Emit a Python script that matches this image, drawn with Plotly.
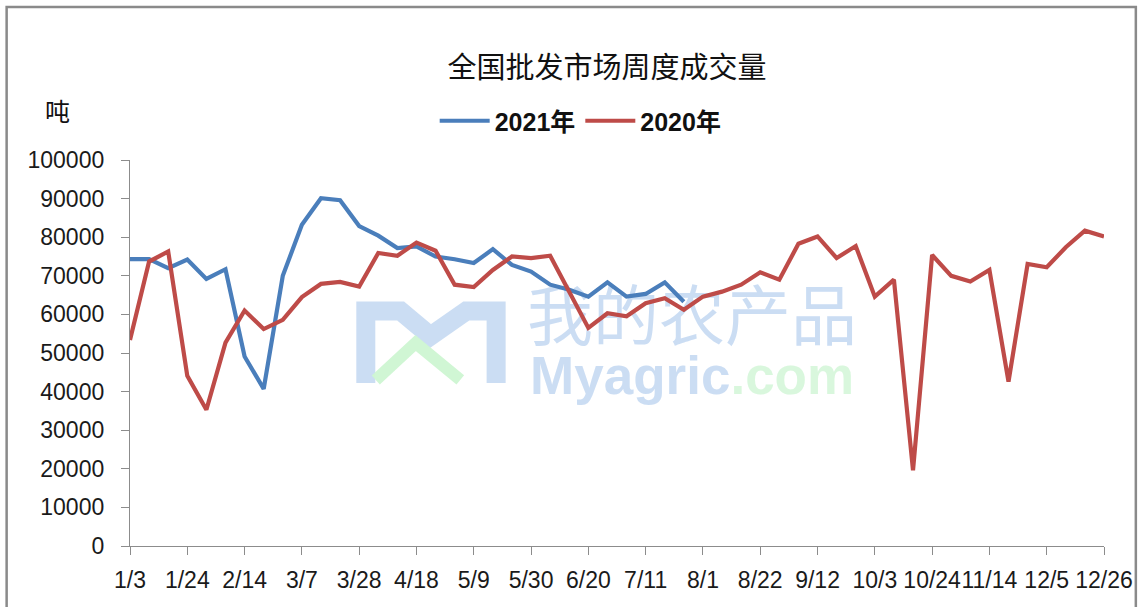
import plotly.graph_objects as go

# ---------------- data ----------------
weeks = ["1/3", "1/10", "1/17", "1/24", "1/31", "2/7", "2/14", "2/21", "2/28", "3/7",
         "3/14", "3/21", "3/28", "4/4", "4/11", "4/18", "4/25", "5/2", "5/9", "5/16",
         "5/23", "5/30", "6/6", "6/13", "6/20", "6/27", "7/4", "7/11", "7/18", "7/25",
         "8/1", "8/8", "8/15", "8/22", "8/29", "9/5", "9/12", "9/19", "9/26", "10/3",
         "10/10", "10/17", "10/24", "10/31", "11/7", "11/14", "11/21", "11/28", "12/5",
         "12/12", "12/19", "12/26"]

tick_labels = weeks[::3]

vol_2021 = [74300, 74300, 72000, 74200, 69200, 71700, 49100, 40700, 70000, 83200,
            90100, 89600, 82900, 80400, 77200, 77600, 75000, 74300, 73300, 76900,
            72800, 71100, 67700, 66400, 64600, 68300, 64600, 65300, 68300, 63300]

vol_2020 = [53400, 73700, 76300, 44100, 35300, 52700, 61000, 56200, 58600, 64500,
            67900, 68400, 67200, 75900, 75200, 78600, 76500, 67700, 67100, 71500,
            75000, 74600, 75200, 65900, 56500, 60300, 59500, 62900, 64200, 61200,
            64600, 65900, 67700, 70900, 69000, 78300, 80200, 74600, 77700, 64600,
            69000, 19600, 75400, 70000, 68500, 71500, 42600, 73100, 72200, 77400,
            81700, 80200]

series_names = ["2021年", "2020年"]
colors = ["#4A7EBB", "#BE4B48"]

# ---------------- layout constants ----------------
W, H = 1145, 607
ML, MR, MT, MB = 130, 36, 160, 61
PW, PH = W - ML - MR, H - MT - MB


def px_x(x):
    return (x - ML) / PW


def px_y(y):
    return (H - MB - y) / PH


fig = go.Figure()
for name, vals, col in zip(series_names, [vol_2021, vol_2020], colors):
    fig.add_trace(go.Scatter(
        x=weeks[:len(vals)], y=vals, mode="lines", name=name,
        line=dict(color=col, width=4.2),
    ))

axis_col = "#8c8c8c"
tick_font = dict(family="Liberation Sans, Arial, sans-serif", size=23, color="#1a1a1a")

fig.update_layout(
    width=W, height=H,
    margin=dict(l=ML, r=MR, t=MT, b=MB),
    paper_bgcolor="white", plot_bgcolor="white",
    title=dict(text="全国批发市场周度成交量", x=607 / W, xanchor="center",
               y=1 - 68 / H, yanchor="middle",
               font=dict(family="Noto Sans CJK SC", size=29, color="#111")),
    showlegend=True,
    legend=dict(orientation="h", x=px_x(583), y=px_y(121), xanchor="center", yanchor="middle",
                font=dict(family="Liberation Sans, Noto Sans CJK SC", size=25, color="#111",
                          weight="bold"),
                itemwidth=50, bgcolor="rgba(0,0,0,0)"),
    xaxis=dict(type="category", categoryorder="array", categoryarray=weeks,
               range=[0, len(weeks) - 1], tickmode="array", tickvals=tick_labels,
               ticktext=tick_labels, ticks="outside", ticklen=8, tickcolor=axis_col,
               showline=True, linecolor=axis_col, linewidth=1.3, showgrid=False,
               zeroline=False, tickfont=tick_font, tickangle=0, ticklabelstandoff=5),
    yaxis=dict(range=[0, 100000], dtick=10000, ticks="outside", ticklen=8,
               tickcolor=axis_col, showline=True, linecolor=axis_col, linewidth=1.3,
               showgrid=False, zeroline=False, tickfont=tick_font, tickformat="d",
               ticklabelstandoff=12),
)

# unit label
fig.add_annotation(text="吨", x=px_x(57), y=px_y(110), xref="paper", yref="paper",
                   xanchor="center", yanchor="middle",
                   showarrow=False, font=dict(family="Noto Sans CJK SC", size=25, color="#111"))

# watermark (drawn below the data lines via shape labels)
wm_blue = "rgba(190,212,240,0.8)"
wm_green = "rgba(205,245,210,0.95)"
fig.add_shape(type="rect", xref="paper", yref="paper", layer="below",
              x0=px_x(520), x1=px_x(870), y0=px_y(345), y1=px_y(299),
              line=dict(width=0), fillcolor="rgba(0,0,0,0)",
              label=dict(text="我的农产品", textposition="middle center",
                         font=dict(family="Noto Sans CJK SC", size=66, color=wm_blue)))
fig.add_shape(type="rect", xref="paper", yref="paper", layer="below",
              x0=px_x(520), x1=px_x(870), y0=px_y(390), y1=px_y(350),
              line=dict(width=0), fillcolor="rgba(0,0,0,0)",
              label=dict(text="<b>Myagric<span style='color:" + wm_green + "'>.com</span></b>",
                         textposition="middle center",
                         font=dict(family="Liberation Sans", size=53, color=wm_blue)))

# watermark logo (approximate)
def pth(points):
    return "M " + " L ".join(f"{px_x(x):.4f},{px_y(y):.4f}" for x, y in points)

fig.add_shape(type="path", xref="paper", yref="paper",
              path=pth([(367, 383), (367, 311), (402, 311), (432, 336), (468, 311), (498, 311), (498, 383)]),
              line=dict(color=wm_blue, width=19), layer="below")
fig.add_shape(type="path", xref="paper", yref="paper",
              path=pth([(377, 380), (417, 343), (462, 380)]),
              line=dict(color=wm_green, width=12), layer="below")

# outer frame
fig.add_shape(type="rect", xref="paper", yref="paper",
              x0=px_x(6), x1=px_x(1141), y0=px_y(640), y1=px_y(7),
              line=dict(color="#8a8a8a", width=2.5), fillcolor="rgba(0,0,0,0)")

fig.write_html("out.html", config={"displayModeBar": False},
               post_script="document.body.style.margin='0';document.body.style.overflow='hidden';")
